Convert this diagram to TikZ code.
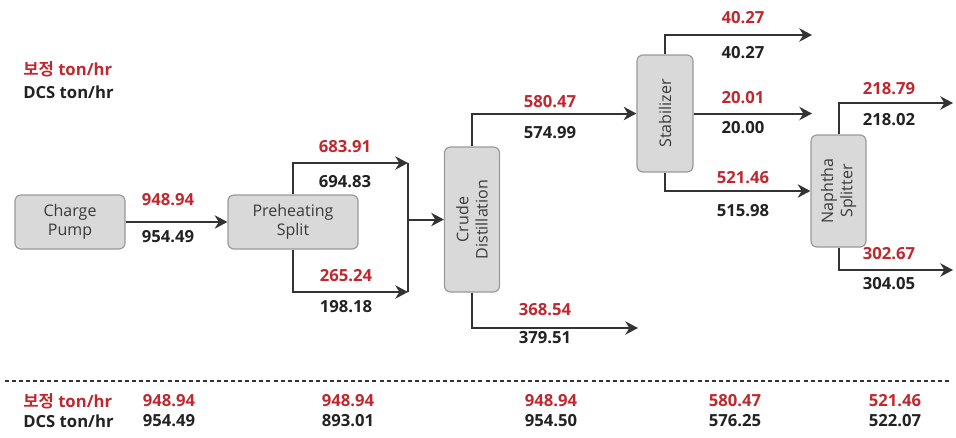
\documentclass[tikz,border=0pt]{standalone}
\usepackage{fontspec}
\setmainfont{Open Sans}
\newfontfamily\kr{Noto Sans CJK KR}[BoldFont={Noto Sans CJK KR Bold}]
\usetikzlibrary{arrows.meta}
\definecolor{redv}{HTML}{C0282F}
\definecolor{blk}{HTML}{222222}
\definecolor{unittext}{HTML}{3A3A3A}
\definecolor{boxfill}{HTML}{D9D9D9}
\definecolor{boxline}{HTML}{9A9A9A}
\definecolor{flowc}{HTML}{333333}
\tikzset{
  unit/.style={draw=boxline, fill=boxfill, rounded corners=4.5pt, line width=0.9pt, inner sep=0pt, text=unittext, font=\fontsize{12}{14.5}\selectfont, align=center},
  rtext/.style={rotate=90, inner sep=0pt, text=unittext, font=\fontsize{12}{14.5}\selectfont, align=center},
  rv/.style={text=redv, inner sep=0pt, font=\fontsize{12.5}{15}\selectfont\bfseries},
  bv/.style={text=blk, inner sep=0pt, font=\fontsize{12.5}{15}\selectfont\bfseries},
  flow/.style={draw=flowc, line width=1.5pt, -{Stealth[length=9.5pt,width=10pt,inset=3pt]}},
  pipe/.style={draw=flowc, line width=1.5pt},
  sep/.style={draw=flowc, line width=1.1pt, dash pattern=on 3pt off 2.3pt}
}
\begin{document}
\begin{tikzpicture}[x=0.75pt,y=-0.75pt]
\useasboundingbox (0,0) rectangle (956,437);

% units
\node[unit, minimum width=82.5pt, minimum height=40.5pt] (cp) at (70,222) {Charge\\Pump};
\node[unit, minimum width=97.5pt, minimum height=40.5pt] (ps) at (293,222) {Preheating\\Split};
\node[unit, minimum width=41.25pt, minimum height=108.75pt] (cd) at (472,219.5) {};
\node[rtext] (cdt) at (cd) {Crude\\Distillation};
\node[unit, minimum width=42pt, minimum height=87.75pt] (st) at (665,113.5) {};
\node[rtext] (stt) at (st) {Stabilizer};
\node[unit, minimum width=41.25pt, minimum height=84pt] (ns) at (838.5,191) {};
\node[rtext] (nst) at (ns) {Naphtha\\Splitter};

% free ends / junctions
\coordinate (j1) at (408,163);
\coordinate (j2) at (408,292);
\coordinate (jm) at (408,219.5);
\coordinate (e1) at (638,328);
\coordinate (e2) at (812,35);
\coordinate (e3) at (812,113.5);
\coordinate (e4) at (953,103);
\coordinate (e5) at (953,270);

% flows
\draw[flow] (cp.east) -- (ps.west);
\draw[flow] (ps.north) |- (j1);
\draw[flow] (ps.south) |- (j2);
\draw[pipe] (j1) -- (j2);
\draw[flow] (jm) -- (cd.west);
\draw[flow] (cd.north) |- (st.west);
\draw[flow] (cd.south) |- (e1);
\draw[flow] (st.north) |- (e2);
\draw[flow] (st.east) -- (e3);
\draw[flow] (st.south) |- (ns.west);
\draw[flow] (ns.north) |- (e4);
\draw[flow] (ns.south) |- (e5);

% flow values
\node[rv] (v1r) at (168,200) {948.94};
\node[bv] (v1b) at (168,237) {954.49};
\node[rv] (v2r) at (345,147) {683.91};
\node[bv] (v2b) at (345,182) {694.83};
\node[rv] (v3r) at (346,276) {265.24};
\node[bv] (v3b) at (346,307) {198.18};
\node[rv] (v4r) at (550,102) {580.47};
\node[bv] (v4b) at (550,133) {574.99};
\node[rv] (v5r) at (545,310) {368.54};
\node[bv] (v5b) at (545,338) {379.51};
\node[rv] (v6r) at (743,18) {40.27};
\node[bv] (v6b) at (743,53) {40.27};
\node[rv] (v7r) at (743,98) {20.01};
\node[bv] (v7b) at (743,128) {20.00};
\node[rv] (v8r) at (743,178) {521.46};
\node[bv] (v8b) at (743,211) {515.98};
\node[rv] (v9r) at (889,89) {218.79};
\node[bv] (v9b) at (889,120) {218.02};
\node[rv] (v10r) at (889,254) {302.67};
\node[bv] (v10b) at (889,284) {304.05};

% legend
\node[rv, anchor=west] (lg1) at (23,69) {{\kr 보정} ton/hr};
\node[bv, anchor=west] (lg2) at (23,92) {DCS ton/hr};

% separator
\coordinate (dl) at (5,381);
\coordinate (dr) at (951,381);
\draw[sep] (dl) -- (dr);

% summary table
\node[rv, anchor=west] (t1) at (23,401) {{\kr 보정} ton/hr};
\node[bv, anchor=west] (t2) at (23,421) {DCS ton/hr};
\node[rv] (a1) at (169,401) {948.94};
\node[bv] (b1) at (169,421) {954.49};
\node[rv] (a2) at (348,401) {948.94};
\node[bv] (b2) at (348,421) {893.01};
\node[rv] (a3) at (551,401) {948.94};
\node[bv] (b3) at (551,421) {954.50};
\node[rv] (a4) at (735,401) {580.47};
\node[bv] (b4) at (735,421) {576.25};
\node[rv] (a5) at (895,401) {521.46};
\node[bv] (b5) at (895,421) {522.07};
\end{tikzpicture}
\end{document}
